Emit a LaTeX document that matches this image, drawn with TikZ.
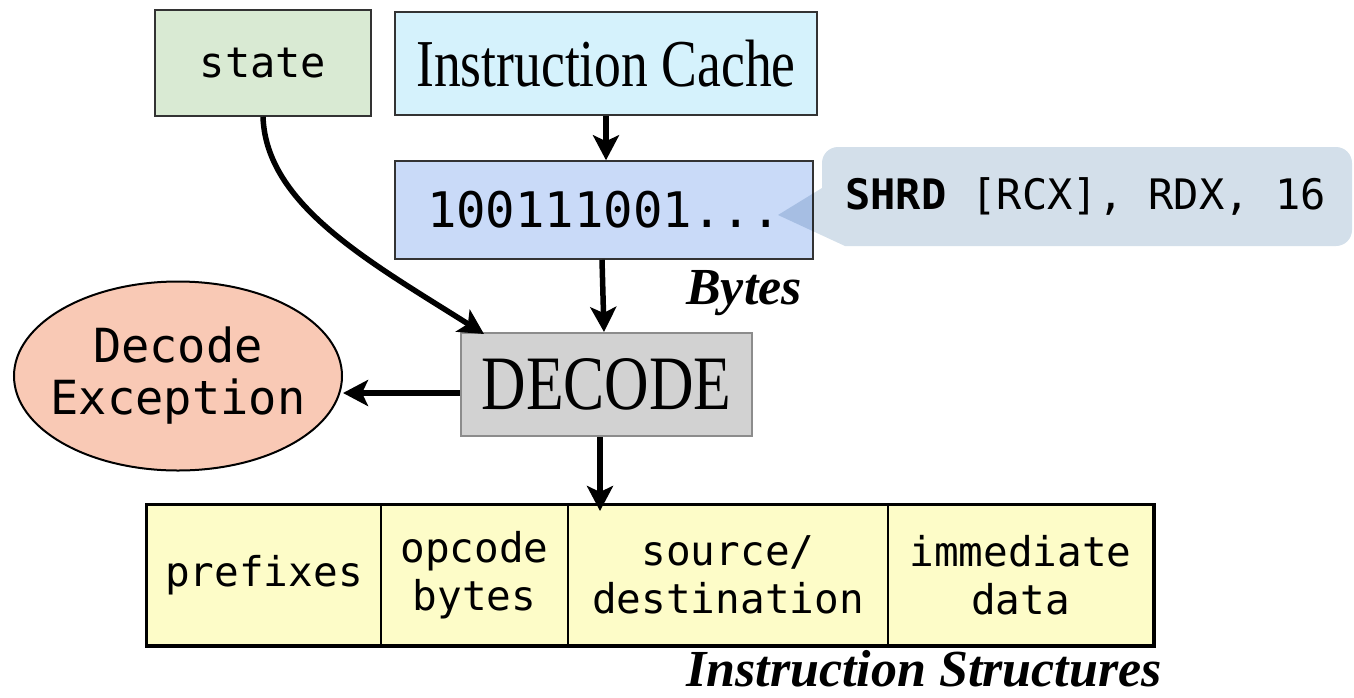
\documentclass[tikz,border=0pt]{standalone}
\usepackage{fontspec}
\setmainfont{Liberation Serif}
\setmonofont{DejaVu Sans Mono}
\newfontfamily\narrowserif{Liberation Serif}[FakeStretch=0.8]
\usetikzlibrary{arrows.meta,shapes.geometric}

\definecolor{stategreen}{HTML}{D9EAD3}
\definecolor{cachecyan}{HTML}{D5F2FC}
\definecolor{bytesblue}{HTML}{C9DAF8}
\definecolor{calloutgray}{HTML}{D3DFEA}
\definecolor{decodegray}{HTML}{D2D2D2}
\definecolor{excsalmon}{HTML}{F9C9B5}
\definecolor{fieldyellow}{HTML}{FDFCC8}

\newcommand{\fsz}[1]{\fontsize{#1}{1.2\dimexpr#1pt\relax}\selectfont}

\begin{document}
\begin{tikzpicture}[x=1pt,y=-1pt,
  box/.style={draw=black!80, line width=1.5pt, inner sep=0pt, rectangle},
  monotext/.style={font=\ttfamily\fsz{#1}},
  field/.style={draw=black, line width=2pt, fill=fieldyellow, inner sep=0pt,
    minimum height=140pt, align=center,
    font=\ttfamily\fontsize{41}{48}\selectfont},
  flow/.style={line width=5.5pt, -{Stealth[length=25pt,width=26pt,inset=6pt]}},
  caption/.style={font=\bfseries\itshape\fontsize{52}{60}\selectfont, inner sep=0pt}]

\useasboundingbox (0,0) rectangle (1354,697);

% upper row: machine state and instruction cache
\node[box, fill=stategreen, minimum width=216pt, minimum height=106pt,
      monotext=42] (state) at (263,63) {state};
\node[box, fill=cachecyan, minimum width=422pt, minimum height=103pt,
      font=\narrowserif\fsz{67}] (cache) at (606,63.5) {Instruction Cache};

% raw bytes fetched from the cache
\node[box, fill=bytesblue, minimum width=418pt, minimum height=98pt,
      monotext=49] (bytes) at (604,210) {100111001...};

% callout with the disassembled instruction
\fill[calloutgray, blend mode=multiply]
  (838,147) -- (1336,147) arc[start angle=270,end angle=360,radius=16]
  -- (1352,230) arc[start angle=0,end angle=90,radius=16]
  -- (845,246) -- (778,215) -- (822,188)
  -- (822,163) arc[start angle=180,end angle=270,radius=16] -- cycle;
\node[anchor=west, inner sep=0pt, monotext=42] (asm) at (845,196)
  {\textbf{SHRD} [RCX], RDX, 16};

\node[caption, anchor=base east] (byteslbl) at (802,304) {Bytes};

% decoder and its exception path
\node[draw=black!45, line width=2pt, fill=decodegray, inner sep=0pt,
      minimum width=291pt, minimum height=103pt,
      font=\narrowserif\fsz{77}] (decode) at (606.5,384.5) {DECODE};
\node[draw=black, line width=2pt, fill=excsalmon, ellipse, inner sep=0pt,
      minimum width=328pt, minimum height=189pt] (exc) at (178,376) {};
\node[align=center, inner sep=0pt,
      font=\ttfamily\fontsize{47}{52}\selectfont] (exctext) at (exc.center)
  {Decode\\Exception};

% decoded instruction layout
\node[field, minimum width=234pt] (pre) at (264,575) {prefixes};
\node[field, minimum width=187pt] (opc) at (474.5,575) {opcode\\bytes};
\node[field, minimum width=320pt] (src) at (728,575) {source/\\destination};
\node[field, minimum width=265pt] (imm) at (1020.5,575) {immediate\\data};
\draw[line width=3pt] (pre.north west) rectangle (imm.south east);

\node[caption, anchor=base east] (structlbl) at (1162,686) {Instruction Structures};

% connectors
\coordinate (tgt) at (484,334);
\draw[flow] (cache.south) -- (bytes.north -| cache.south);
\draw[flow] (bytes.south -| 602,0) -- (decode.north -| 604,0);
\draw[flow] (decode.south -| 600,0) -- (600,511);
\draw[flow] (decode.west |- 0,393) -- (exc.east |- 0,393);
\draw[flow] (state.south) .. controls (266,205) and (370,262) .. (tgt);

\end{tikzpicture}
\end{document}
